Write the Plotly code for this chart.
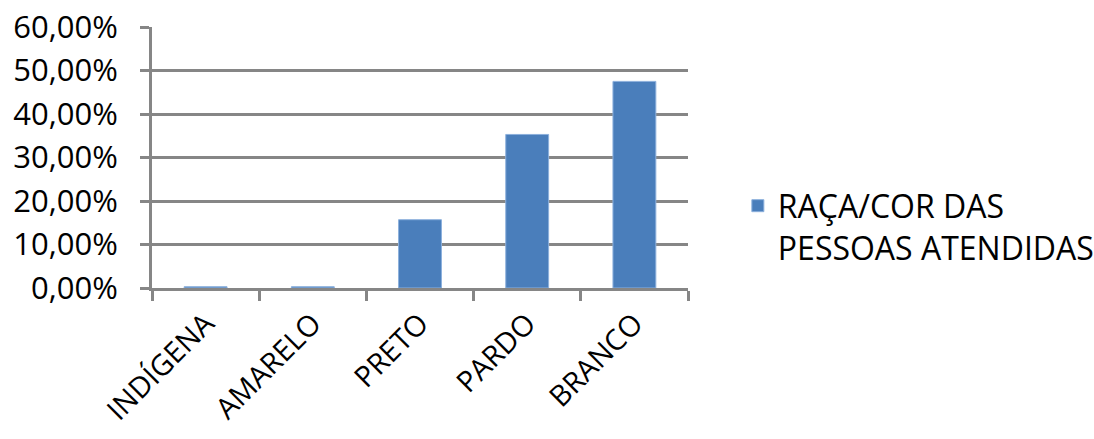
import plotly.graph_objects as go

# Share of people served, by race/colour (fractions)
categorias = ["INDÍGENA", "AMARELO", "PRETO", "PARDO", "BRANCO"]
percentuais = [0.003, 0.003, 0.157, 0.353, 0.475]
serie_nome = "RAÇA/COR DAS<br>PESSOAS ATENDIDAS"
y_ticks = [0, 0.1, 0.2, 0.3, 0.4, 0.5, 0.6]
y_tick_labels = ["0,00%", "10,00%", "20,00%", "30,00%", "40,00%", "50,00%", "60,00%"]

FONT = "Open Sans"
GREY = "#868686"

fig = go.Figure()
fig.add_trace(go.Bar(
    x=categorias,
    y=percentuais,
    name=serie_nome,
    marker=dict(color="#4A7EBB", line=dict(color="#8CB0DC", width=1)),
    showlegend=True,
))

fig.update_layout(
    width=1094,
    height=439,
    margin=dict(l=152, r=406, t=27, b=151, autoexpand=False),
    paper_bgcolor="white",
    plot_bgcolor="white",
    bargap=0.6,
    font=dict(family=FONT, size=32, color="#000000"),
    showlegend=True,
    legend=dict(
        x=1.093,
        y=0.42,
        xanchor="left",
        yanchor="top",
        valign="top",
        font=dict(family=FONT, size=32, color="#000000"),
        bgcolor="rgba(0,0,0,0)",
    ),
)

fig.update_xaxes(
    type="category",
    automargin=False,
    showline=True,
    linecolor=GREY,
    linewidth=3,
    ticks="outside",
    tickson="boundaries",
    ticklen=10,
    tickwidth=3,
    tickcolor=GREY,
    tickangle=-45,
    ticklabelstandoff=4,
    tickfont=dict(family=FONT, size=29, color="#000000"),
    showgrid=False,
)

fig.update_yaxes(
    range=[0, 0.6],
    automargin=False,
    tickvals=y_ticks,
    ticktext=y_tick_labels,
    showline=True,
    linecolor=GREY,
    linewidth=3,
    ticks="outside",
    ticklen=9,
    tickwidth=3,
    tickcolor=GREY,
    ticklabelstandoff=16,
    showgrid=True,
    gridcolor=GREY,
    gridwidth=3,
    zeroline=False,
    tickfont=dict(family=FONT, size=31, color="#000000"),
)

fig.write_html("out.html")
